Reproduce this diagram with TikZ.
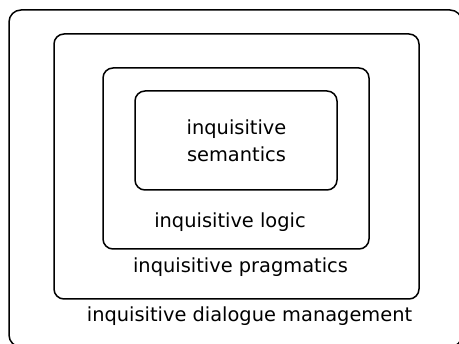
\documentclass[tikz,border=0pt]{standalone}
\usepackage{fontspec}
\setmainfont{DejaVu Sans}
\begin{document}
\begin{tikzpicture}[x=1pt,y=-1pt,
  box/.style={draw=black, line width=1.5pt, rounded corners=10pt, inner sep=0pt, fill=none},
  lbl/.style={anchor=base, inner sep=0pt, font=\fontsize{19.4}{27}\selectfont}]
\useasboundingbox (0,0) rectangle (459,344);
\clip (0,0) rectangle (459,344);
\node[box, rounded corners=12pt, minimum width=453pt, minimum height=337pt] (outer) at (235.5,178.5) {};
\node[box, minimum width=365pt, minimum height=265pt] (prag) at (236.5,166.5) {};
\node[box, minimum width=266pt, minimum height=181pt] (logic) at (236,158.5) {};
\node[box, minimum width=202pt, minimum height=99pt] (sem) at (236,140.5) {};
\node[lbl] (tsem1) at (236.5,135) {inquisitive};
\node[lbl] (tsem2) at (236.5,162) {semantics};
\node[lbl] (tlogic) at (230,228) {inquisitive logic};
\node[lbl] (tprag) at (240.5,273) {inquisitive pragmatics};
\node[lbl] (tdial) at (249.5,322) {inquisitive dialogue management};
\end{tikzpicture}
\end{document}
